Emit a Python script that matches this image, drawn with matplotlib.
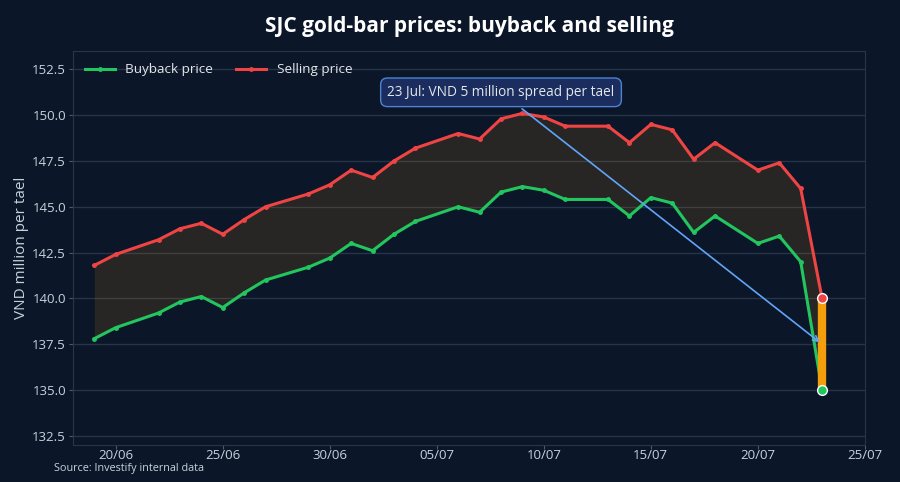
import matplotlib
matplotlib.use("Agg")
import matplotlib.pyplot as plt
import matplotlib.dates as mdates
import pandas as pd

plt.rcParams['font.family'] = ['Open Sans', 'Noto Sans', 'DejaVu Sans']

# data (VND million per tael)
dates = ["2026-06-19", "2026-06-20", "2026-06-22", "2026-06-23", "2026-06-24",
         "2026-06-25", "2026-06-26", "2026-06-27", "2026-06-29", "2026-06-30",
         "2026-07-01", "2026-07-02", "2026-07-03", "2026-07-04", "2026-07-06",
         "2026-07-07", "2026-07-08", "2026-07-09", "2026-07-10", "2026-07-11",
         "2026-07-13", "2026-07-14", "2026-07-15", "2026-07-16", "2026-07-17",
         "2026-07-18", "2026-07-20", "2026-07-21", "2026-07-22", "2026-07-23"]
buyback = [137.8, 138.4, 139.2, 139.8, 140.1, 139.5, 140.3, 141.0, 141.7, 142.2,
           143.0, 142.6, 143.5, 144.2, 145.0, 144.7, 145.8, 146.1, 145.9, 145.4,
           145.4, 144.5, 145.5, 145.2, 143.6, 144.5, 143.0, 143.4, 142.0, 135.0]
selling = [141.8, 142.4, 143.2, 143.8, 144.1, 143.5, 144.3, 145.0, 145.7, 146.2,
           147.0, 146.6, 147.5, 148.2, 149.0, 148.7, 149.8, 150.1, 149.9, 149.4,
           149.4, 148.5, 149.5, 149.2, 147.6, 148.5, 147.0, 147.4, 146.0, 140.0]
x = pd.to_datetime(dates)

BG = '#0b1628'
GREEN = '#22c55e'
RED = '#ef4444'
ORANGE = '#f59e0b'
TXT = '#c9d1dc'

fig, ax = plt.subplots(figsize=(9, 4.82), dpi=100)
fig.patch.set_facecolor(BG)
ax.set_facecolor(BG)
fig.subplots_adjust(left=0.081, right=0.961, top=0.894, bottom=0.077)

ax.fill_between(x, buyback, selling, color=ORANGE, alpha=0.12, lw=0)
ax.plot(x, buyback, color=GREEN, lw=2.2, marker='o', ms=2.5, label='Buyback price', zorder=3)
ax.plot(x, selling, color=RED, lw=2.2, marker='o', ms=2.5, label='Selling price', zorder=3)

# spread on the last day
last = x[-1]
ax.plot([last, last], [buyback[-1], selling[-1]], color=ORANGE, lw=6, zorder=4, solid_capstyle='butt')
ax.plot([last], [selling[-1]], 'o', color=RED, ms=7, mec='white', mew=1, zorder=5)
ax.plot([last], [buyback[-1]], 'o', color=GREEN, ms=7, mec='white', mew=1, zorder=5)

ax.annotate("23 Jul: VND 5 million spread per tael",
            xy=(last, (buyback[-1] + selling[-1]) / 2),
            xytext=(pd.Timestamp("2026-07-08"), 151.25),
            ha='center', va='center', color='#e5e7eb', fontsize=9.8,
            bbox=dict(boxstyle='round,pad=0.5', fc='#1a2d5e', ec='#4f83d1', lw=1),
            arrowprops=dict(arrowstyle='->', color='#60a5fa', lw=1.2), zorder=6)

ax.set_xlim(pd.Timestamp("2026-06-18"), pd.Timestamp("2026-07-25"))
ax.set_ylim(132.0, 153.5)
ax.set_yticks([132.5, 135, 137.5, 140, 142.5, 145, 147.5, 150, 152.5])
ax.yaxis.set_major_formatter(matplotlib.ticker.FormatStrFormatter('%.1f'))
ax.xaxis.set_major_locator(mdates.DayLocator(bymonthday=[5, 10, 15, 20, 25, 30]))
ax.xaxis.set_major_formatter(mdates.DateFormatter('%d/%m'))

ax.grid(axis='y', color='#25344a', lw=1)
ax.set_axisbelow(True)
for s in ax.spines.values():
    s.set_color('#26364c')
ax.tick_params(colors=TXT, labelsize=9.5, length=3, pad=2, color='#4a5a70')
ax.tick_params(axis='x', pad=0)

ax.set_ylabel('VND million per tael', color=TXT, fontsize=11, labelpad=2)
fig.suptitle('SJC gold-bar prices: buyback and selling', color='white',
             fontsize=15, fontweight='bold', x=0.522, y=0.946, va='center')
fig.text(0.06, 0.029, 'Source: Investify internal data', color=TXT, fontsize=7.8, va='center')

leg = ax.legend(loc='upper left', ncol=2, frameon=False, fontsize=9.7,
                bbox_to_anchor=(0.0, 1.0), columnspacing=1.7, handlelength=2.2)
for t in leg.get_texts():
    t.set_color('#e5e7eb')

plt.savefig('out.png', facecolor=BG)
